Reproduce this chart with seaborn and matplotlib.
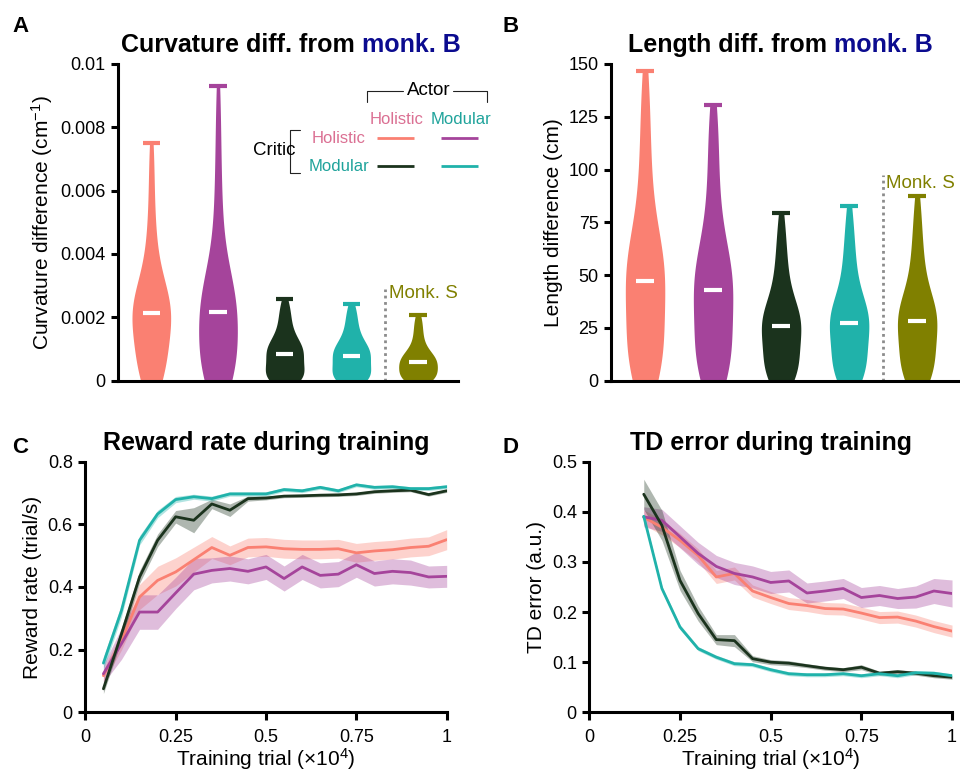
import numpy as np
import pandas as pd
import matplotlib.pyplot as plt
import seaborn as sns

# ---- groups and colours ----
groups = ["Holistic critic / holistic actor", "Holistic critic / modular actor",
          "Modular critic / holistic actor", "Modular critic / modular actor", "Monk. S"]
colors = ["#FA8072", "#A5449B", "#1B331D", "#20B2AA", "#808000"]
pink_txt = "#DB7093"
teal_txt = "#1FA39B"
blue_txt = "#0B0B8F"

# ---- panel A: curvature difference, in units of 1e-3 cm^-1 ----
curv_hh = [0.0, 0.02, 0.06, 0.1, 0.15, 0.2, 0.3, 0.38, 0.45, 0.6, 0.75, 0.9, 1.0, 1.1, 1.2,
           1.3, 1.4, 1.5, 1.6, 1.7, 1.8, 1.9, 2.0, 2.05, 2.1,
           2.15, 2.2, 2.25, 2.3, 2.35, 2.4, 2.45, 2.5, 2.6, 2.7, 2.75, 2.9, 3.05, 3.2, 3.4,
           3.6, 3.85, 4.1, 4.4, 4.8, 5.2, 5.7, 6.3, 6.9, 7.5]
curv_hm = [0.0, 0.03, 0.07, 0.1, 0.13, 0.18, 0.2, 0.25, 0.3, 0.4, 0.5, 0.6, 0.7, 0.8, 0.9,
           1.0, 1.1, 1.25, 1.4, 1.55, 1.7, 1.85, 2.0, 2.1, 2.15,
           2.2, 2.25, 2.3, 2.35, 2.45, 2.5, 2.6, 2.7, 2.75, 2.9, 2.95, 3.1, 3.3, 3.55, 3.8,
           4.1, 4.45, 4.85, 5.3, 5.8, 6.4, 7.0, 7.7, 8.5, 9.3]
curv_mh = [0.0, 0.01, 0.02, 0.03, 0.04, 0.06, 0.07, 0.09, 0.1, 0.12, 0.16, 0.2, 0.24, 0.28, 0.32,
           0.36, 0.4, 0.45, 0.5, 0.55, 0.6, 0.65, 0.7, 0.76, 0.81,
           0.85, 0.87, 0.9, 0.92, 0.95, 0.98, 1.0, 1.06, 1.08, 1.12, 1.15, 1.18, 1.25, 1.32, 1.4,
           1.48, 1.57, 1.67, 1.78, 1.9, 2.02, 2.14, 2.27, 2.41, 2.56]
curv_mm = [0.0, 0.01, 0.02, 0.03, 0.04, 0.06, 0.07, 0.09, 0.1, 0.12, 0.15, 0.19, 0.23, 0.27, 0.31,
           0.35, 0.39, 0.43, 0.48, 0.53, 0.58, 0.63, 0.68, 0.73, 0.77,
           0.79, 0.82, 0.84, 0.87, 0.89, 0.92, 0.94, 0.98, 1.0, 1.06, 1.08, 1.12, 1.18, 1.25, 1.32,
           1.4, 1.48, 1.57, 1.67, 1.78, 1.9, 2.02, 2.14, 2.27, 2.41]
curv_monk = [0.0, 0.005, 0.015, 0.02, 0.03, 0.05, 0.06, 0.08, 0.09, 0.11, 0.14, 0.17, 0.2, 0.23, 0.26,
             0.29, 0.32, 0.35, 0.38, 0.41, 0.44, 0.48, 0.51, 0.54, 0.57,
             0.59, 0.61, 0.63, 0.65, 0.67, 0.69, 0.71, 0.73, 0.75, 0.78, 0.8, 0.85, 0.9, 0.96, 1.02,
             1.09, 1.17, 1.26, 1.36, 1.47, 1.58, 1.7, 1.82, 1.94, 2.07]

# ---- panel B: length difference (cm) ----
len_hh = [0, 1, 2.5, 3, 5, 6, 7.5, 9, 10, 12.5, 13, 15, 17.5, 20, 22.5,
          25, 27.5, 30, 32.5, 35, 37.5, 40, 42, 44, 46,
          48, 49, 50.5, 51.5, 53, 54.5, 56, 57.5, 59, 61, 62, 65.5, 69, 73, 77,
          82, 87, 93, 99, 106, 113, 121, 129, 137.5, 146.5]
len_hm = [0, 1, 2.3, 3, 4.6, 5, 6.9, 8, 9.2, 11, 11.5, 13.8, 16, 18.3, 20.6,
          22.9, 25.2, 27.5, 29.8, 32, 34.3, 36.6, 38.5, 40.5, 42.3,
          43.7, 45, 46, 47, 48.5, 50, 51, 53, 54, 56, 57, 60, 63.5, 67, 71,
          75, 80, 85, 91, 97, 104, 111, 118, 124, 130.6]
len_mh = [0, 0.5, 1.4, 1.5, 2.5, 2.8, 3.5, 4.2, 5, 5.6, 7, 8.4, 9.8, 11.2, 12.6,
          14, 15.4, 16.8, 18.2, 19.6, 21, 22.3, 23.5, 24.6, 25.4,
          26, 26.5, 27.3, 28, 28.8, 29.5, 30.3, 31, 32, 33, 33.8, 35.6, 37.6, 39.8, 42,
          44.5, 47.2, 50, 53.2, 56.6, 60.2, 64.2, 68.7, 73.8, 79.4]
len_mm = [0, 0.5, 1.5, 1.5, 2.5, 3, 4, 4.5, 5.5, 6, 7.5, 9, 10.5, 12, 13.5,
          15, 16.5, 18, 19.4, 20.8, 22.2, 23.5, 24.7, 25.8, 26.7,
          27.5, 28, 28.8, 29.5, 30.3, 31, 31.9, 32.5, 33.6, 34.5, 35.4, 37.3, 39.4, 41.6, 44,
          46.6, 49.4, 52.4, 55.6, 59, 62.7, 66.8, 71.4, 76.7, 82.7]
len_monk = [0, 0.5, 1.5, 1.6, 2.5, 3.2, 4, 4.8, 5.5, 6.4, 8, 9.5, 11, 12.5, 14,
            15.5, 17, 18.5, 20, 21.4, 22.8, 24.2, 25.5, 26.6, 27.6,
            28.4, 29, 29.7, 30.5, 31.2, 32, 32.9, 34, 34.7, 36, 36.6, 38.6, 40.8, 43.1, 45.6,
            48.3, 51.2, 54.4, 57.8, 61.5, 65.5, 70, 75.2, 81, 87.4]

# ---- panel C: reward rate during training ----
trial_c = [0.05, 0.1, 0.15, 0.2, 0.25, 0.3, 0.35, 0.4, 0.45, 0.5,
           0.55, 0.6, 0.65, 0.7, 0.75, 0.8, 0.85, 0.9, 0.95, 1.0]
rew_hh = [0.117, 0.229, 0.368, 0.421, 0.448, 0.487, 0.526, 0.501, 0.526, 0.528,
          0.522, 0.52, 0.52, 0.522, 0.509, 0.515, 0.519, 0.526, 0.53, 0.551]
rew_hm = [0.123, 0.219, 0.32, 0.32, 0.381, 0.441, 0.453, 0.459, 0.45, 0.464,
          0.427, 0.464, 0.437, 0.441, 0.471, 0.443, 0.45, 0.446, 0.432, 0.434]
rew_mh = [0.075, 0.25, 0.432, 0.549, 0.624, 0.613, 0.665, 0.645, 0.682, 0.684,
          0.69, 0.691, 0.693, 0.694, 0.697, 0.704, 0.707, 0.709, 0.695, 0.707]
rew_mm = [0.157, 0.325, 0.549, 0.633, 0.679, 0.688, 0.682, 0.697, 0.697, 0.697,
          0.711, 0.707, 0.718, 0.707, 0.726, 0.718, 0.72, 0.714, 0.714, 0.72]
rew_hh_err = [0.02, 0.03, 0.04, 0.045, 0.045, 0.04, 0.035, 0.03, 0.03, 0.03,
              0.03, 0.03, 0.03, 0.03, 0.03, 0.03, 0.03, 0.03, 0.03, 0.032]
rew_hm_err = [0.03, 0.05, 0.055, 0.055, 0.05, 0.05, 0.04, 0.04, 0.04, 0.04,
              0.04, 0.04, 0.04, 0.04, 0.04, 0.04, 0.04, 0.04, 0.035, 0.035]
rew_mh_err = [0.015, 0.02, 0.02, 0.02, 0.02, 0.04, 0.015, 0.02, 0.008, 0.006,
              0.005, 0.005, 0.005, 0.005, 0.005, 0.005, 0.005, 0.005, 0.005, 0.005]
rew_mm_err = [0.02, 0.02, 0.015, 0.012, 0.01, 0.008, 0.008, 0.007, 0.007, 0.007,
              0.006, 0.006, 0.006, 0.006, 0.006, 0.006, 0.006, 0.006, 0.006, 0.006]

# ---- panel D: TD error during training ----
trial_d = [0.15, 0.2, 0.25, 0.3, 0.35, 0.4, 0.45, 0.5, 0.55,
           0.6, 0.65, 0.7, 0.75, 0.8, 0.85, 0.9, 0.95, 1.0]
td_hh = [0.389, 0.369, 0.343, 0.313, 0.27, 0.277, 0.242, 0.229, 0.217,
         0.213, 0.207, 0.206, 0.198, 0.189, 0.19, 0.182, 0.171, 0.162]
td_hm = [0.39, 0.383, 0.35, 0.317, 0.291, 0.277, 0.27, 0.259, 0.262,
         0.238, 0.242, 0.247, 0.229, 0.233, 0.227, 0.23, 0.242, 0.237]
td_mh = [0.435, 0.373, 0.263, 0.197, 0.145, 0.143, 0.107, 0.1, 0.098,
         0.093, 0.088, 0.085, 0.09, 0.078, 0.081, 0.078, 0.073, 0.07]
td_mm = [0.391, 0.247, 0.17, 0.127, 0.11, 0.097, 0.095, 0.085, 0.077,
         0.075, 0.075, 0.077, 0.073, 0.077, 0.073, 0.079, 0.078, 0.073]
td_hh_err = [0.015, 0.015, 0.014, 0.013, 0.013, 0.013, 0.012, 0.012, 0.012,
             0.012, 0.012, 0.012, 0.012, 0.012, 0.012, 0.012, 0.012, 0.012]
td_hm_err = [0.02, 0.022, 0.022, 0.022, 0.022, 0.022, 0.022, 0.022, 0.022,
             0.02, 0.02, 0.02, 0.02, 0.02, 0.02, 0.022, 0.025, 0.027]
td_mh_err = [0.03, 0.03, 0.02, 0.015, 0.01, 0.012, 0.006, 0.005, 0.005,
             0.004, 0.004, 0.004, 0.005, 0.004, 0.004, 0.004, 0.004, 0.004]
td_mm_err = [0.005, 0.005, 0.005, 0.004, 0.004, 0.004, 0.004, 0.004, 0.004,
             0.004, 0.004, 0.004, 0.004, 0.004, 0.004, 0.004, 0.004, 0.004]

# ---- style ----
sns.set_style("ticks")
plt.rcParams["font.family"] = ["Liberation Sans", "DejaVu Sans"]
plt.rcParams["mathtext.fontset"] = "custom"
plt.rcParams["mathtext.rm"] = "Liberation Sans"
plt.rcParams["mathtext.it"] = "Liberation Sans:italic"
plt.rcParams["mathtext.bf"] = "Liberation Sans:bold"
plt.rcParams["axes.linewidth"] = 2.2
plt.rcParams["xtick.major.width"] = 2.2
plt.rcParams["ytick.major.width"] = 2.2
plt.rcParams["xtick.major.size"] = 6
plt.rcParams["ytick.major.size"] = 5
for key in ["xtick.color", "ytick.color", "axes.edgecolor", "text.color", "axes.labelcolor"]:
    plt.rcParams[key] = "black"

fig = plt.figure(figsize=(9.6, 7.72), dpi=100)
axA = fig.add_axes([0.1229, 0.5071, 0.3542, 0.41])
axB = fig.add_axes([0.6365, 0.5071, 0.3635, 0.41])
axC = fig.add_axes([0.0889, 0.0773, 0.3764, 0.3247])
axD = fig.add_axes([0.6139, 0.0773, 0.3778, 0.3247])

TICK_FS = 13
LABEL_FS = 15
TITLE_FS = 18


def violins(ax, samples, ylim, yticks, yticklabels, ylabel, scale=1.0):
    rows = []
    for g, vals in zip(groups, samples):
        for v in vals:
            rows.append((g, v * scale))
    df = pd.DataFrame(rows, columns=["group", "value"])
    sns.violinplot(data=df, x="group", y="value", hue="group", order=groups,
                   hue_order=groups, palette=colors, cut=0, inner=None, bw_adjust=1.0,
                   linewidth=0, width=0.58, density_norm="width", saturation=1,
                   legend=False, ax=ax)
    stats = df.groupby("group", sort=False)["value"].agg(["median", "max"])
    for i, g in enumerate(groups):
        ax.hlines(stats.loc[g, "median"], i - 0.13, i + 0.13, color="white", lw=3, zorder=3)
        ax.hlines(stats.loc[g, "max"], i - 0.13, i + 0.13, color=colors[i], lw=3, zorder=3)
    ax.set_ylim(*ylim)
    ax.set_yticks(yticks)
    ax.set_yticklabels(yticklabels)
    ax.set_xlabel("")
    ax.set_ylabel(ylabel, fontsize=LABEL_FS)
    ax.tick_params(axis="x", length=0, labelbottom=False)
    ax.tick_params(axis="y", labelsize=TICK_FS, pad=4)
    sns.despine(ax=ax)


def two_color_title(ax, black, blue, split):
    t = ax.annotate(black, xy=(split, 1), xycoords="axes fraction", xytext=(0, 8.6),
                    textcoords="offset points", ha="right", va="baseline",
                    fontsize=TITLE_FS, fontweight="bold", color="black")
    ax.annotate(blue, xy=(1, 0), xycoords=t, xytext=(5, 0), textcoords="offset points",
                ha="left", va="bottom", fontsize=TITLE_FS, fontweight="bold", color=blue_txt)


# ---- A ----
violins(axA, [curv_hh, curv_hm, curv_mh, curv_mm, curv_monk], (0, 0.01),
        [0, 0.002, 0.004, 0.006, 0.008, 0.01],
        ["0", "0.002", "0.004", "0.006", "0.008", "0.01"],
        "Curvature difference (cm$^{-1}$)", scale=1e-3)
axA.set_xlim(-0.5, 4.6)
axA.axvline(3.5, ymin=0, ymax=0.29, color="#8c8c8c", lw=2, ls=(0, (1, 1.3)))
axA.text(3.56, 0.00276, "Monk. S", color=colors[4], fontsize=13.5, va="center")
two_color_title(axA, "Curvature diff. from", "monk. B", 0.696)

# legend drawn as text + line samples
tr = axA.transAxes
axA.text(0.914, 0.915, "Actor", transform=tr, ha="center", va="center", fontsize=13.5,
         clip_on=False)
axA.plot([0.731, 0.731, 0.838], [0.881, 0.915, 0.915], transform=tr,
         color="#222222", lw=0.8, clip_on=False)
axA.plot([0.985, 1.084, 1.084], [0.915, 0.915, 0.881], transform=tr,
         color="#222222", lw=0.8, clip_on=False)
axA.text(0.818, 0.826, "Holistic", transform=tr, ha="center", va="center",
         fontsize=12, color=pink_txt, clip_on=False)
axA.text(1.009, 0.826, "Modular", transform=tr, ha="center", va="center",
         fontsize=12, color=teal_txt, clip_on=False)
axA.text(0.65, 0.765, "Holistic", transform=tr, ha="center", va="center",
         fontsize=12, color=pink_txt, clip_on=False)
axA.text(0.65, 0.677, "Modular", transform=tr, ha="center", va="center",
         fontsize=12, color=teal_txt, clip_on=False)
axA.text(0.46, 0.728, "Critic", transform=tr, ha="center", va="center",
         fontsize=13.5, clip_on=False)
axA.plot([0.535, 0.506, 0.506, 0.535], [0.791, 0.791, 0.655, 0.655], transform=tr,
         color="#222222", lw=0.8, clip_on=False)
for (x0, x1, y), c in zip([(0.761, 0.871, 0.765), (0.95, 1.058, 0.765),
                           (0.761, 0.871, 0.677), (0.95, 1.058, 0.677)], colors[:4]):
    axA.plot([x0, x1], [y, y], transform=tr, color=c, lw=2, clip_on=False,
             solid_capstyle="butt")

# ---- B ----
violins(axB, [len_hh, len_hm, len_mh, len_mm, len_monk], (0, 150),
        [0, 25, 50, 75, 100, 125, 150],
        ["0", "25", "50", "75", "100", "125", "150"], "Length difference (cm)")
axB.set_xlim(-0.5, 4.63)
axB.axvline(3.5, ymin=0, ymax=0.65, color="#8c8c8c", lw=2, ls=(0, (1, 1.3)))
axB.text(3.54, 93.5, "Monk. S", color=colors[4], fontsize=13.5, va="center", clip_on=False)
two_color_title(axB, "Length diff. from", "monk. B", 0.62)


# ---- C and D ----
def curves(ax, x, means, errs, ylim, yticks, yticklabels, ylabel, title):
    rows = []
    for g, m in zip(groups[:4], means):
        for xi, yi in zip(x, m):
            rows.append((xi, yi, g))
    df = pd.DataFrame(rows, columns=["trial", "value", "model"])
    for m, e, c in zip(means, errs, colors[:4]):
        m = np.array(m)
        e = np.array(e)
        ax.fill_between(x, m - e, m + e, color=c, alpha=0.35, lw=0)
    sns.lineplot(data=df, x="trial", y="value", hue="model", hue_order=groups[:4],
                 palette=colors[:4], lw=2, legend=False, errorbar=None, ax=ax)
    ax.set_xlim(0, 1)
    ax.set_ylim(*ylim)
    ax.set_xticks([0, 0.25, 0.5, 0.75, 1])
    ax.set_xticklabels(["0", "0.25", "0.5", "0.75", "1"])
    ax.set_yticks(yticks)
    ax.set_yticklabels(yticklabels)
    ax.tick_params(axis="x", labelsize=TICK_FS, pad=6)
    ax.tick_params(axis="y", labelsize=TICK_FS, pad=4)
    ax.set_xlabel("Training trial (\u00d710$^4$)", fontsize=LABEL_FS, labelpad=0)
    ax.set_ylabel(ylabel, fontsize=LABEL_FS)
    ax.set_title(title, fontsize=TITLE_FS, fontweight="bold", pad=8.6)
    sns.despine(ax=ax)


curves(axC, trial_c, [rew_hh, rew_hm, rew_mh, rew_mm],
       [rew_hh_err, rew_hm_err, rew_mh_err, rew_mm_err], (0, 0.8),
       [0, 0.2, 0.4, 0.6, 0.8], ["0", "0.2", "0.4", "0.6", "0.8"],
       "Reward rate (trial/s)", "Reward rate during training")
curves(axD, trial_d, [td_hh, td_hm, td_mh, td_mm],
       [td_hh_err, td_hm_err, td_mh_err, td_mm_err], (0, 0.5),
       [0, 0.1, 0.2, 0.3, 0.4, 0.5], ["0", "0.1", "0.2", "0.3", "0.4", "0.5"],
       "TD error (a.u.)", "TD error during training")

# panel letters
for letter, x, y in [("A", 0.0125, 0.9585), ("B", 0.523, 0.9585),
                     ("C", 0.0125, 0.4132), ("D", 0.523, 0.4132)]:
    fig.text(x, y, letter, fontsize=16, fontweight="bold", va="baseline")

fig.savefig("out.png", dpi=100)
